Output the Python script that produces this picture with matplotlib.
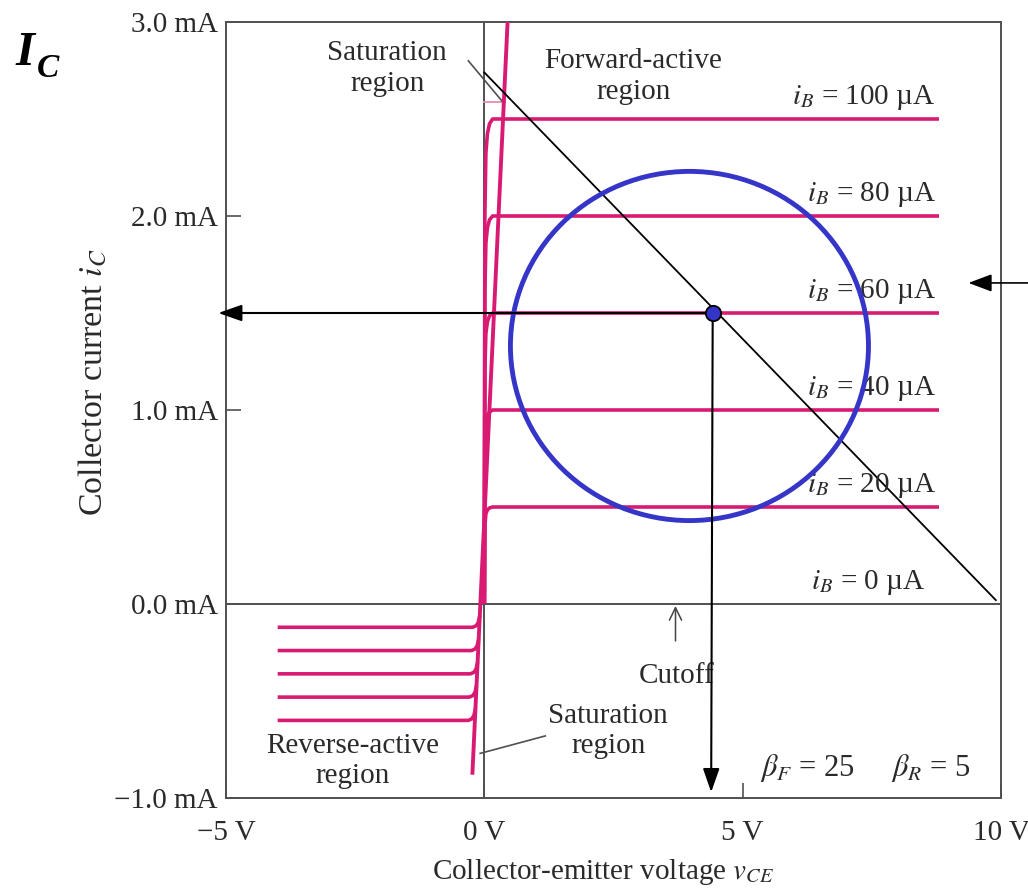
import numpy as np
import matplotlib
matplotlib.use("Agg")
import matplotlib.pyplot as plt
from matplotlib.patches import Ellipse

plt.rcParams['font.family'] = ['Liberation Serif', 'DejaVu Serif']
plt.rcParams['mathtext.fontset'] = 'stix'

# Transistor parameters and base-current steps
beta_f = 25
beta_r = 5
base_currents_uA = [20, 40, 60, 80, 100]
label_currents_uA = [0, 20, 40, 60, 80, 100]
reverse_levels_mA = [-0.12, -0.24, -0.36, -0.48, -0.60]

# Knee shape of the forward characteristics (offset in V, fraction of final current)
fwd_knee_v = [0.0, 0.01, 0.03, 0.06, 0.10, 0.16]
fwd_knee_frac = [0.0, 0.80, 0.93, 0.97, 0.99, 1.0]
fwd_end_v = 8.8

# Knee shape of the reverse characteristics (offset from the steep line)
rev_start_v = -4.0
rev_knee_dv = [-0.14, -0.07, -0.03, 0.0]
rev_knee_di = [0.0, 0.008, 0.025, 0.06]

# Steep saturation line through the origin
sat_v = [-0.23, 0.45]
sat_i = [-0.87, 3.0]

# Load line and operating point
load_v = [0.0, 9.9]
load_i = [2.74, 0.02]
q_v, q_i = 4.42, 1.5

# Highlight ring around the operating region
ring_center = (3.97, 1.33)
ring_w, ring_h = 6.93, 1.80

x_ticks = [-5, 0, 5, 10]
x_tick_labels = ['\u22125 V', '0 V', '5 V', '10 V']
y_ticks = [-1, 0, 1, 2, 3]
y_tick_labels = ['\u22121.0 mA', '0.0 mA', '1.0 mA', '2.0 mA', '3.0 mA']

MAG = '#d81a73'
AX = '#505050'
TXT = '#2a2a2a'
FS = 21

fig = plt.figure(figsize=(10.28, 8.91), dpi=100)
ax = fig.add_axes([226 / 1028, 1 - 798 / 891, 775 / 1028, 776 / 891])
ax.set_xlim(-5, 10)
ax.set_ylim(-1, 3)
for s in ax.spines.values():
    s.set_color(AX)
    s.set_linewidth(1.4)

ax.set_xticks(x_ticks)
ax.set_xticklabels(x_tick_labels)
ax.set_yticks(y_ticks)
ax.set_yticklabels(y_tick_labels)
ax.tick_params(direction='in', length=11, width=1.2, color=AX, labelsize=FS,
               labelcolor=TXT)
ax.tick_params(axis='x', pad=16)
ax.tick_params(axis='y', pad=6)

# Zero axes
ax.axhline(0, color=AX, lw=1.4, zorder=1)
ax.axvline(0, color=AX, lw=1.4, zorder=1)


def sat_x(i):
    return np.interp(i, sat_i, sat_v)


# Forward-active characteristics
for ib in base_currents_uA:
    level = beta_f * ib / 1000.0
    v = list(fwd_knee_v) + [fwd_end_v]
    i = [level * f for f in fwd_knee_frac] + [level]
    ax.plot(v, i, color=MAG, lw=2.6, solid_capstyle='butt', zorder=3)

# Reverse-active characteristics
for level in reverse_levels_mA:
    xs = sat_x(level + rev_knee_di[-1])
    v = [rev_start_v] + [xs + d for d in rev_knee_dv]
    i = [level] + [level + d for d in rev_knee_di]
    ax.plot(v, i, color=MAG, lw=2.6, solid_capstyle='butt', zorder=3)

# Steep saturation line
ax.plot(sat_v, sat_i, color=MAG, lw=2.8, zorder=3)
ax.plot([0.0, 0.4], [2.59, 2.59], color='#e98ab3', lw=1.3, zorder=2)

# Load line
ax.plot(load_v, load_i, color='black', lw=1.3, zorder=4)

# Leader lines for the saturation labels
ax.plot([-0.31, 0.35], [2.80, 2.59], color=AX, lw=1.2, zorder=2)
ax.plot([1.18, -0.08], [-0.68, -0.77], color=AX, lw=1.2, zorder=2)

# Ring around the operating region
ax.add_patch(Ellipse(ring_center, ring_w, ring_h, fill=False,
                     edgecolor='#3535c8', lw=3.5, zorder=5))

# Projections of the operating point
arrow = dict(arrowstyle='-|>,head_length=0.8,head_width=0.28', color='black',
             lw=1.5, mutation_scale=18, shrinkA=0, shrinkB=0)
ax.annotate('', xy=(-5.15, q_i), xytext=(q_v, q_i), arrowprops=arrow,
            annotation_clip=False, zorder=6)
ax.annotate('', xy=(q_v - 0.03, -0.97), xytext=(q_v, q_i), arrowprops=arrow,
            annotation_clip=False, zorder=6)
ax.annotate('', xy=(9.37, 1.655), xytext=(10.7, 1.655),
            arrowprops=dict(arrowstyle='-|>,head_length=0.8,head_width=0.3',
                            color='black', lw=1.2, mutation_scale=18,
                            shrinkA=0, shrinkB=0),
            annotation_clip=False, zorder=6)
ax.plot([q_v], [q_i], 'o', ms=11, mfc='#3434c8', mec='black', mew=1.3, zorder=7)

# Cutoff pointer
ax.annotate('', xy=(3.70, -0.01), xytext=(3.70, -0.19),
            arrowprops=dict(arrowstyle='->,head_length=0.45,head_width=0.22',
                            color='#444444', lw=1.1, mutation_scale=20,
                            shrinkA=0, shrinkB=0), zorder=4)

# Base-current labels
for ib in label_currents_uA:
    level = beta_f * ib / 1000.0
    xr = 8.73 if ib > 0 else 8.54
    ax.text(xr, level + 0.075, r'$i_B$' + ' = %d \u00b5A' % ib, ha='right',
            va='baseline', fontsize=FS, color=TXT, zorder=4)

# Region labels
txt = dict(fontsize=FS, color=TXT, linespacing=1.22)
ax.text(-1.88, 2.76, 'Saturation\nregion', ha='center', va='center', **txt)
ax.text(2.88, 2.72, 'Forward-active\nregion', ha='center', va='center', **txt)
ax.text(3.72, -0.406, 'Cutoff', ha='center', va='baseline', zorder=3, **txt)
ax.text(2.40, -0.655, 'Saturation\nregion', ha='center', va='center', **txt)
ax.text(-2.54, -0.81, 'Reverse-active\nregion', ha='center', va='center', **txt)
ax.text(5.34, -0.885, r'$\beta_F$' + ' = %d     ' % beta_f + r'$\beta_R$' + ' = %d' % beta_r,
        ha='left', va='baseline', fontsize=FS + 1, color=TXT)

# Axis titles
fig.text(93 / 1028, 1 - 382 / 891, r'Collector current $i_C$', rotation=90,
         ha='center', va='center', fontsize=24.5, color=TXT)
fig.text(603 / 1028, 1 - 872 / 891, r'Collector-emitter voltage $v_{CE}$',
         ha='center', va='center', fontsize=FS, color=TXT)

# Corner symbol
fig.text(15 / 1028, 1 - 65 / 891, 'I', fontsize=35, fontweight='bold',
         fontstyle='italic', va='baseline', ha='left')
fig.text(37 / 1028, 1 - 77 / 891, 'C', fontsize=24, fontweight='bold',
         fontstyle='italic', va='baseline', ha='left')

fig.savefig('out.png', dpi=100)
